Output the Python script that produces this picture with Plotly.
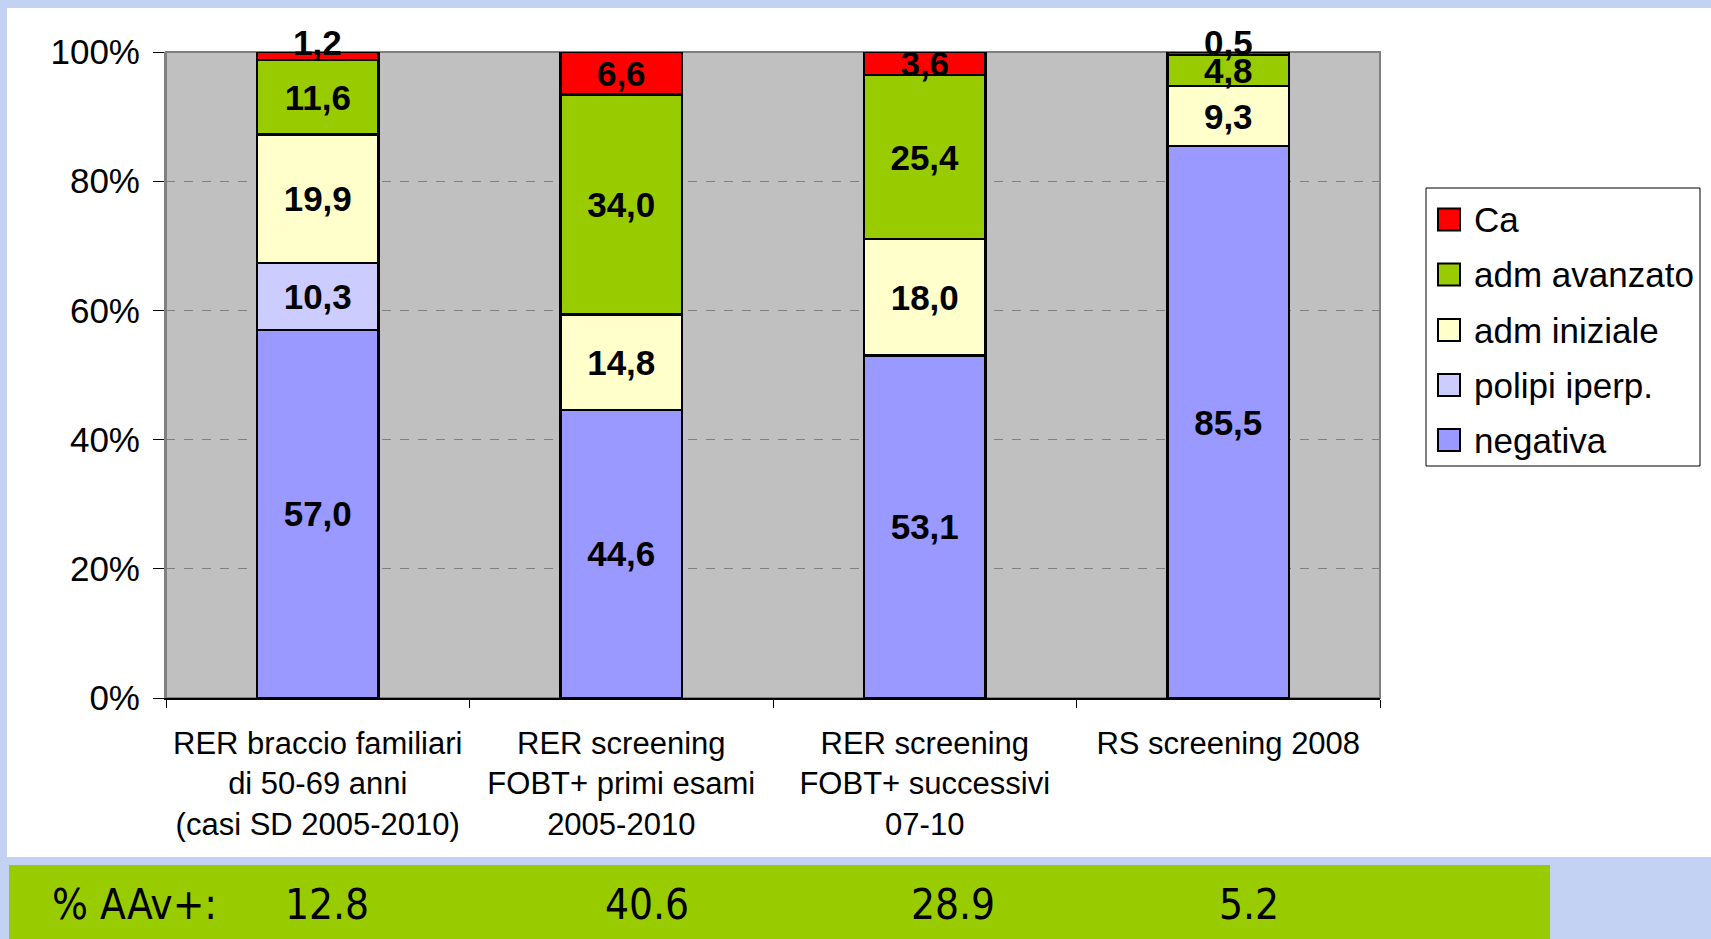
import plotly.graph_objects as go

categories = [
    "RER braccio familiari<br>di 50-69 anni<br>(casi SD 2005-2010)",
    "RER screening<br>FOBT+ primi esami<br>2005-2010",
    "RER screening<br>FOBT+ successivi<br>07-10",
    "RS screening 2008",
]
series_names = ["negativa", "polipi iperp.", "adm iniziale", "adm avanzato", "Ca"]
negativa = [57.0, 44.6, 53.1, 85.5]
polipi_iperp = [10.3, None, None, None]
adm_iniziale = [19.9, 14.8, 18.0, 9.3]
adm_avanzato = [11.6, 34.0, 25.4, 4.8]
ca = [1.2, 6.6, 3.6, 0.5]
series_values = [negativa, polipi_iperp, adm_iniziale, adm_avanzato, ca]
colors = ["#9999FF", "#CCCCFF", "#FFFFCC", "#99CC00", "#FF0000"]

band_label = "% AAv+:"
band_values = ["12.8", "40.6", "28.9", "5.2"]
y_ticks = [0, 20, 40, 60, 80, 100]
y_ticktext = [f"{v}%" for v in y_ticks]

# plot-area pixel geometry
W_FIG, H_FIG = 1711, 939
L, R, T, B = 166, 1380, 52, 698
PW, PH = R - L, B - T


def px(x):
    return (x - L) / PW


def py(y):
    return (B - y) / PH


def fmt(v):
    return f"<b>{v:.1f}</b>".replace(".", ",")


FONT = "Liberation Sans, Arial, sans-serif"
BAND_FONT = "DejaVu Sans Condensed, sans-serif"
SMALL = 2.0  # segments too thin to hold their label; label sits on top of the stack

fig = go.Figure()
for name, vals, col in zip(series_names, series_values, colors):
    is_top = name == series_names[-1]
    txt = ["" if (v is None or (is_top and v < SMALL)) else fmt(v) for v in vals]
    fig.add_trace(go.Bar(
        x=categories, y=vals, name=name, text=txt, textposition="inside",
        insidetextanchor="middle", textangle=0, cliponaxis=False,
        textfont=dict(family=FONT, size=35, color="black"),
        marker=dict(color=col, line=dict(color="black", width=2.5)),
        showlegend=False, hoverinfo="name+y",
    ))

shapes = [
    # white slide panel
    dict(type="rect", xref="paper", yref="paper", x0=px(7), x1=px(W_FIG + 5),
         y0=py(857), y1=py(8), fillcolor="white", line=dict(width=0), layer="below"),
    # green band
    dict(type="rect", xref="paper", yref="paper", x0=px(9), x1=px(1550),
         y0=py(H_FIG + 5), y1=py(865), fillcolor="#99CC00", line=dict(width=0), layer="below"),
    # plot area background + border
    dict(type="rect", xref="paper", yref="paper", x0=0, x1=1, y0=0, y1=1,
         fillcolor="#C0C0C0", line=dict(color="#808080", width=2), layer="below"),
    # legend box
    dict(type="rect", xref="paper", yref="paper", x0=px(1426), x1=px(1700),
         y0=py(466), y1=py(188), fillcolor="white", line=dict(color="black", width=1)),
]

annotations = []
# labels of very thin top segments, placed at the top of the 100% stack
for i, v in enumerate(ca):
    if v < SMALL:
        annotations.append(dict(text=fmt(v), xref="x", yref="y", x=categories[i], y=100,
                                xanchor="center", yanchor="middle", yshift=10,
                                showarrow=False,
                                font=dict(family=FONT, size=35, color="black")))

annotations.append(dict(text=band_label, xref="paper", yref="paper", x=px(50), y=py(904),
                        xanchor="left", yanchor="middle", showarrow=False,
                        font=dict(family=BAND_FONT, size=42, color="black")))
band_x = [327, 647, 953, 1249]
for xv, t in zip(band_x, band_values):
    annotations.append(dict(text=t, xref="paper", yref="paper", x=px(xv), y=py(904),
                            xanchor="center", yanchor="middle", showarrow=False,
                            font=dict(family=BAND_FONT, size=42, color="black")))

# manual legend (Ca on top, negativa at bottom)
leg_y = [440, 385, 330, 274.5, 219.5]
for name, col, yc in zip(series_names, colors, leg_y):
    shapes.append(dict(type="rect", xref="paper", yref="paper",
                       x0=px(1438), x1=px(1460), y0=py(yc + 11), y1=py(yc - 11),
                       fillcolor=col, line=dict(color="black", width=2)))
    annotations.append(dict(text=name, xref="paper", yref="paper", x=px(1472), y=py(yc),
                            xanchor="left", yanchor="middle", showarrow=False,
                            font=dict(family=FONT, size=35, color="black")))

fig.update_layout(
    width=W_FIG, height=H_FIG,
    margin=dict(l=L, r=W_FIG - R, t=T, b=H_FIG - B, pad=0),
    barmode="stack", barnorm="percent", bargap=0.6,
    paper_bgcolor="#C3D2F3", plot_bgcolor="rgba(0,0,0,0)",
    uniformtext=dict(minsize=35, mode="show"),
    font=dict(family=FONT, color="black"),
    showlegend=False,
    shapes=shapes, annotations=annotations,
    xaxis=dict(showline=True, linecolor="black", linewidth=1.5, ticks="outside",
               tickson="boundaries", ticklen=8, tickcolor="black", ticklabelstandoff=17,
               tickfont=dict(family=FONT, size=31, color="black"), showgrid=False),
    yaxis=dict(range=[0, 100], tickmode="array", tickvals=y_ticks, ticktext=y_ticktext,
               showline=True, linecolor="#808080", linewidth=2, ticks="outside", ticklen=11,
               tickcolor="black", showgrid=True, gridcolor="#808080", griddash="dash",
               gridwidth=1, zeroline=False, ticklabelstandoff=6,
               tickfont=dict(family=FONT, size=35, color="black")),
)

fig.write_html(
    "out.html",
    config={"displayModeBar": False},
    post_script="document.body.style.margin='0px';document.body.style.overflow='hidden';"
                "document.body.style.background='#C3D2F3';",
)
